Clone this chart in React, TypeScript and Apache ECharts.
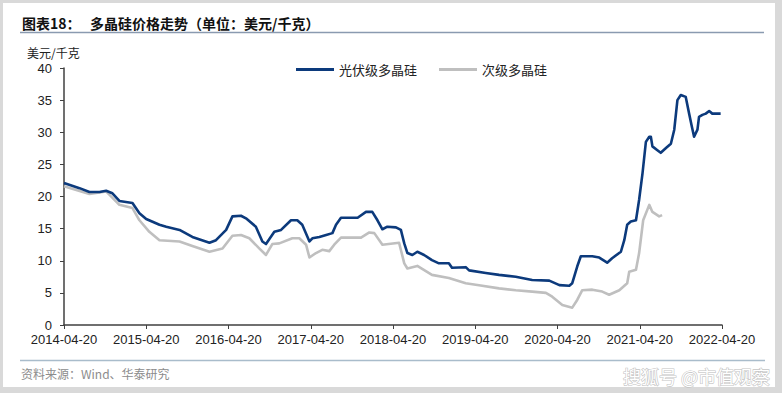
import React, { useEffect, useRef } from "react";
import * as echarts from "echarts";

const TITLE = "图表18：   多晶硅价格走势（单位：美元/千克）";
const UNIT = "美元/千克";
const SOURCE = "资料来源：Wind、华泰研究";
const SERIES_NAMES = ["光伏级多晶硅", "次级多晶硅"];
const START_YEAR = 2014;
const TICK_SUFFIX = "-04-20";

const solarDates = [
  "2014-04-20", "2014-06-28", "2014-08-11", "2014-09-25", "2014-10-24", "2014-11-21",
  "2014-12-22", "2015-02-18", "2015-03-21", "2015-04-20", "2015-06-18", "2015-07-18",
  "2015-09-15", "2015-11-11", "2016-01-26", "2016-02-24", "2016-04-09", "2016-05-07",
  "2016-06-14", "2016-07-06", "2016-08-19", "2016-09-17", "2016-10-03", "2016-11-09",
  "2016-12-09", "2017-01-22", "2017-02-19", "2017-03-13", "2017-04-14", "2017-04-27",
  "2017-05-28", "2017-06-27", "2017-07-25", "2017-08-10", "2017-09-01", "2017-11-14",
  "2017-12-21", "2018-01-18", "2018-02-10", "2018-03-04", "2018-03-26", "2018-05-03",
  "2018-05-25", "2018-06-09", "2018-06-23", "2018-07-15", "2018-08-06", "2018-09-05",
  "2018-10-10", "2018-11-10", "2018-12-24", "2019-01-07", "2019-03-09", "2019-03-24",
  "2019-06-06", "2019-08-04", "2019-10-17", "2019-12-29", "2020-03-14", "2020-04-28",
  "2020-06-11", "2020-06-24", "2020-07-16", "2020-08-01", "2020-09-21", "2020-10-22",
  "2020-11-26", "2020-12-18", "2021-01-26", "2021-02-10", "2021-02-23", "2021-03-11",
  "2021-04-03", "2021-04-17", "2021-05-02", "2021-05-17", "2021-06-01", "2021-06-08",
  "2021-06-15", "2021-07-07", "2021-07-22", "2021-08-13", "2021-09-05", "2021-09-20",
  "2021-10-04", "2021-10-19", "2021-11-10", "2021-11-25", "2021-12-07", "2021-12-17",
  "2022-01-01", "2022-01-08", "2022-01-23", "2022-02-07", "2022-02-22", "2022-03-08",
  "2022-04-14",
];
const solarValues = [
  22.1, 21.3, 20.7, 20.7, 20.9, 20.5,
  19.3, 19.0, 17.4, 16.5, 15.6, 15.3,
  14.8, 13.7, 12.8, 13.2, 14.8, 16.9,
  17.0, 16.6, 15.3, 13.0, 12.6, 14.5,
  14.8, 16.3, 16.3, 15.6, 13.0, 13.5,
  13.7, 14.0, 14.3, 15.6, 16.7, 16.7,
  17.6, 17.6, 16.3, 14.9, 15.3, 15.2,
  14.8, 12.7, 11.2, 10.9, 11.4, 10.9,
  10.1, 9.6, 9.6, 8.9, 9.0, 8.5,
  8.1, 7.8, 7.5, 7.0, 6.9, 6.2,
  6.1, 6.5, 9.1, 10.7, 10.7, 10.5,
  9.7, 10.4, 11.4, 13.2, 15.6, 16.1,
  16.3, 19.5, 23.6, 28.5, 29.3, 29.3,
  27.8, 27.2, 26.8, 27.5, 28.2, 30.4,
  35.0, 35.8, 35.5, 32.9, 30.9, 29.3,
  30.4, 32.4, 32.7, 32.9, 33.3, 32.9,
  32.9,
];

const secondaryDates = [
  "2014-04-20", "2014-08-11", "2014-10-24", "2014-12-22", "2015-02-18", "2015-03-21",
  "2015-05-04", "2015-06-18", "2015-09-15", "2015-11-11", "2016-01-26", "2016-03-24",
  "2016-05-07", "2016-06-14", "2016-07-21", "2016-09-04", "2016-10-03", "2016-10-31",
  "2016-12-01", "2017-01-28", "2017-02-28", "2017-03-30", "2017-04-14", "2017-05-13",
  "2017-06-10", "2017-07-11", "2017-08-02", "2017-09-01", "2017-11-29", "2018-01-05",
  "2018-01-27", "2018-03-04", "2018-05-17", "2018-06-09", "2018-06-23", "2018-08-06",
  "2018-10-10", "2018-12-24", "2019-03-09", "2019-05-07", "2019-08-04", "2019-10-17",
  "2019-12-29", "2020-02-28", "2020-03-27", "2020-05-11", "2020-06-24", "2020-07-16",
  "2020-08-07", "2020-09-21", "2020-11-04", "2020-12-05", "2021-01-19", "2021-02-23",
  "2021-03-04", "2021-04-03", "2021-04-17", "2021-05-05", "2021-06-01", "2021-06-15",
  "2021-07-15", "2021-07-28",
];
const secondaryValues = [
  21.6, 20.4, 20.8, 18.7, 18.2, 16.3,
  14.5, 13.2, 13.0, 12.3, 11.4, 11.9,
  13.9, 14.0, 13.5, 11.9, 10.9, 12.6,
  12.7, 13.5, 13.5, 12.5, 10.5, 11.2,
  11.7, 11.5, 12.5, 13.6, 13.6, 14.4,
  14.3, 12.5, 12.8, 9.6, 8.8, 9.2,
  7.8, 7.3, 6.5, 6.2, 5.7, 5.4,
  5.2, 5.0, 4.4, 3.1, 2.7, 3.9,
  5.4, 5.5, 5.2, 4.7, 5.4, 6.5,
  8.3, 8.6, 11.2, 16.3, 18.7, 17.6,
  16.9, 17.1,
];

const yTicks = [0, 5, 10, 15, 20, 25, 30, 35, 40];

const ORIGIN = Date.parse("2014-04-20T00:00:00Z");
const YEAR_MS = 365.25 * 86400000;
const toYears = (d: string) => (Date.parse(d + "T00:00:00Z") - ORIGIN) / YEAR_MS;

const CJK = '"Noto Sans CJK SC", "Noto Sans", sans-serif';
const LATIN = '"Liberation Sans", Arial, sans-serif';

export default function App() {
  const ref = useRef<HTMLDivElement>(null);
  useEffect(() => {
    if (!ref.current) return;
    const chart = echarts.init(ref.current, null, { renderer: "svg" });
    chart.setOption({
      animation: false,
      backgroundColor: "transparent",
      title: {
        text: TITLE,
        left: 17,
        top: 11,
        textStyle: { fontFamily: CJK, fontSize: 14, fontWeight: "bold", color: "#111" },
      },
      legend: {
        top: 58,
        left: 291,
        itemWidth: 38,
        itemHeight: 3,
        itemGap: 22,
        icon: "rect",
        textStyle: { fontFamily: CJK, fontSize: 13, color: "#222" },
        data: SERIES_NAMES,
      },
      grid: { left: 64, right: 60, top: 68, bottom: 68, containLabel: false },
      xAxis: {
        type: "value",
        min: 0,
        max: 8,
        interval: 1,
        splitLine: { show: false },
        axisLine: { lineStyle: { color: "#404040", width: 1.5 } },
        axisTick: { show: true, length: 4, lineStyle: { color: "#404040" } },
        axisLabel: {
          margin: 8,
          fontFamily: LATIN,
          fontSize: 13,
          color: "#222",
          formatter: (v: number) => `${START_YEAR + Math.round(v)}${TICK_SUFFIX}`,
        },
      },
      yAxis: {
        type: "value",
        min: yTicks[0],
        max: yTicks[yTicks.length - 1],
        interval: 5,
        splitLine: { show: false },
        axisLine: { show: true, lineStyle: { color: "#404040", width: 1.5 } },
        axisTick: { show: true, length: 4, lineStyle: { color: "#404040" } },
        axisLabel: { margin: 12, fontFamily: LATIN, fontSize: 13, color: "#222" },
      },
      graphic: [
        { type: "line", shape: { x1: 20, y1: 32.5, x2: 764, y2: 32.5 }, style: { stroke: "#8a9ab0", lineWidth: 1.5 } },
        { type: "line", shape: { x1: 20, y1: 360.5, x2: 765, y2: 360.5 }, style: { stroke: "#a9bccb", lineWidth: 1.5 } },
        { type: "text", x: 27, y: 52, style: { text: UNIT, font: `12px ${CJK}`, fill: "#222", verticalAlign: "middle" } },
        { type: "text", x: 21, y: 373, style: { text: SOURCE, font: `12px ${CJK}`, fill: "#8c8c8c", verticalAlign: "middle" } },
        {
          type: "text", x: 770, y: 376,
          style: { text: "搜狐号 @市值观察", font: `18px ${CJK}`, fill: "#ffffff", stroke: "#c4c4c4", lineWidth: 1.2, align: "right", verticalAlign: "middle" },
        },
      ],
      series: [
        {
          name: SERIES_NAMES[0],
          type: "line",
          showSymbol: false,
          z: 3,
          itemStyle: { color: "#0c3a7c" },
          lineStyle: { color: "#0c3a7c", width: 2.6, join: "round" },
          data: solarDates.map((d, i) => [toYears(d), solarValues[i]]),
        },
        {
          name: SERIES_NAMES[1],
          type: "line",
          showSymbol: false,
          z: 2,
          itemStyle: { color: "#bfbfbf" },
          lineStyle: { color: "#bfbfbf", width: 2.6, join: "round" },
          data: secondaryDates.map((d, i) => [toYears(d), secondaryValues[i]]),
        },
      ],
    });
    return () => chart.dispose();
  }, []);
  return (
    <div style={{ position: "fixed", left: 0, top: 0, width: 782, height: 393, background: "#d9d9d9" }}>
      <div style={{ position: "absolute", left: 3, top: 3, width: 772, height: 384, background: "#ffffff" }} />
      <div ref={ref} style={{ position: "absolute", left: 0, top: 0, width: 782, height: 393 }} />
    </div>
  );
}
